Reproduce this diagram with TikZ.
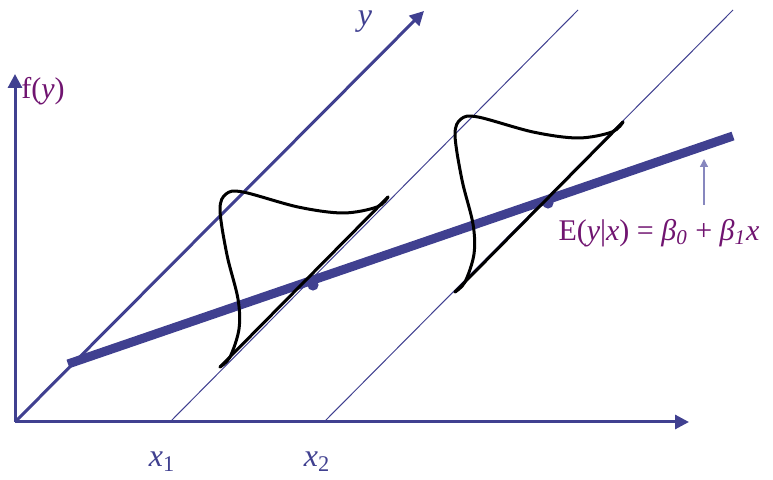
\documentclass[tikz,border=0pt]{standalone}
\usepackage{fontspec}
\setmainfont{Liberation Serif}
\usetikzlibrary{arrows.meta}
\definecolor{axisblue}{RGB}{64,64,144}
\definecolor{lblpurple}{RGB}{112,20,112}
\definecolor{paleblue}{RGB}{135,135,190}

\begin{document}
\begin{tikzpicture}[x=0.5pt,y=-0.5pt,font=\fontsize{15}{18}\selectfont,
    axis/.style={draw=axisblue,line width=1.5pt,-{Triangle[length=7pt,width=7pt]}},
    guide/.style={draw=axisblue,line width=0.5pt},
    regr/.style={draw=axisblue,line width=4.5pt},
    dens/.style={draw=black,line width=1.5pt,line cap=round,line join=round},
    lbl/.style={text=lblpurple,inner sep=0pt},
    tick/.style={text=axisblue,inner sep=0pt,font=\fontsize{16}{19}\selectfont}]
    \useasboundingbox (0,0) rectangle (773,480);
    % axes and guide lines
    \coordinate (O)     at (15,422);
    \coordinate (ftop)  at (15,74);
    \coordinate (xend)  at (689,422);
    \coordinate (ytop)  at (424,11);
    \coordinate (x1)    at (170,422);
    \coordinate (x1top) at (578,10);
    \coordinate (x2)    at (324,422);
    \coordinate (x2top) at (733,10);
    \draw[guide] (x1)--(x1top);
    \draw[guide] (x2)--(x2top);
    \draw[axis] (O)--(ftop);
    \draw[axis] (O)--(xend);
    \draw[axis] (O)--(ytop);
    % regression line
    \coordinate (rA) at (68,364);
    \coordinate (rB) at (733,136);
    \draw[regr] (rA)--(rB);
    \coordinate (m1) at (313,285);
    \coordinate (m2) at (548,203);
    \fill[axisblue] (m1) circle (2.8pt);
    \fill[axisblue] (m2) circle (2.8pt);
    % conditional densities
    \foreach \dx/\dy in {0/0,235/-75}{
      \begin{scope}[shift={(\dx,\dy)}]
        \draw[dens] (220,367)--(388,197);
        \draw[dens] plot[smooth,tension=0.55] coordinates {(388,197) (377,207) (343,213) (298,207)
          (243,192) (226,194) (220,210) (227,255) (238,299) (239,329) (230,357) (220,367)};
      \end{scope}
    }
    % labels
    \node[lbl]  (fy)  at (43,91)   {f(\textit{y})};
    \node[tick] (ylb) at (365,22)  {\textit{y}};
    \node[tick] (x1l) at (162,462) {\textit{x}\textsubscript{1}};
    \node[tick] (x2l) at (317,462) {\textit{x}\textsubscript{2}};
    \node[lbl]  (eq)  at (659,233) {E(\textit{y}|\textit{x}) = \textit{β}\textsubscript{\textit{0}} + \textit{β}\textsubscript{\textit{1}}\textit{x}};
    \coordinate (pbot) at (704,205);
    \coordinate (ptop) at (704,159);
    \draw[paleblue,line width=0.6pt,-{Triangle[length=4pt,width=4pt]}] (pbot)--(ptop);
\end{tikzpicture}
\end{document}
